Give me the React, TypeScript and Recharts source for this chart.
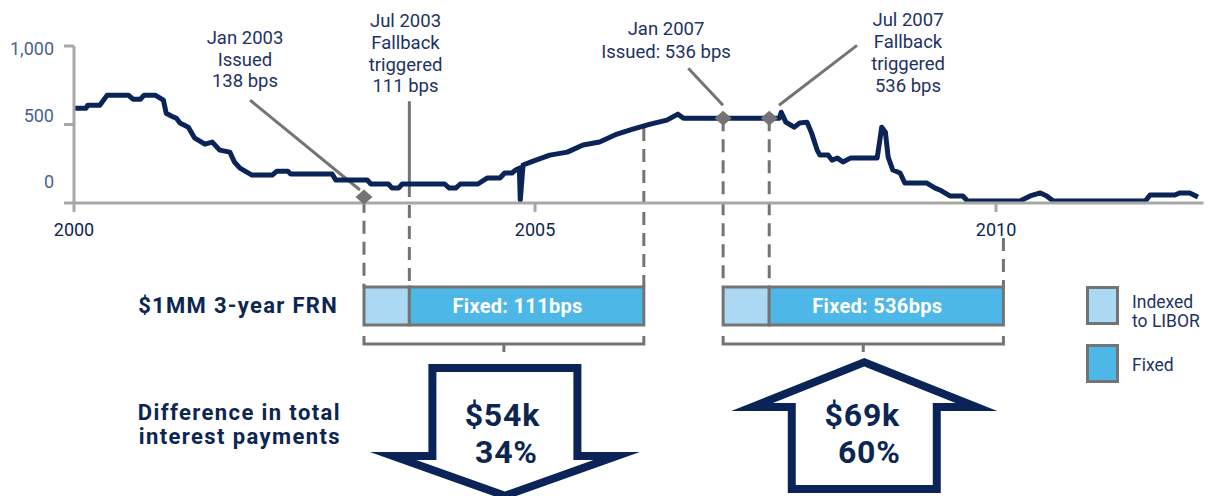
import React from 'react'
import {
  LineChart, Line, XAxis, YAxis, ReferenceLine, ReferenceArea, ReferenceDot,
} from 'recharts'

const W = 1209
const H = 496
const PLOT_TOP = 46
const PLOT_BOTTOM = 203
const PLOT_RIGHT = 1203.5
const PLOT_H = PLOT_BOTTOM - PLOT_TOP
// pixels below the x axis, expressed in bps so the chart's y scale places it
const below = (px: number) => -px * 1000 / PLOT_H

const FONT = 'Roboto, "Open Sans", sans-serif'
const LINE = '#0a2458'
const INK = '#1d3264'
const INK_BOLD = '#0c2652'
const GREY = '#747474'
const AXIS = '#a7a7a7'
const LIGHT = '#abd8f2'
const FIXED = '#4db7e7'

// rate series (bps)
const years = [
  2000.00, 2000.13, 2000.15, 2000.28, 2000.36, 2000.59, 2000.64, 2000.72, 2000.76, 2000.88,
  2000.97, 2001.00, 2001.06, 2001.11, 2001.15, 2001.24, 2001.31, 2001.42, 2001.50, 2001.58,
  2001.69, 2001.74, 2001.80, 2001.93, 2002.15, 2002.20, 2002.32, 2002.35, 2002.80, 2002.84,
  2003.18, 2003.22, 2003.41, 2003.45, 2003.52, 2003.56, 2004.02, 2004.07, 2004.14, 2004.19,
  2004.38, 2004.48, 2004.62, 2004.67, 2004.75, 2004.79, 2004.83, 2004.84, 2004.87, 2004.98,
  2005.16, 2005.35, 2005.52, 2005.70, 2005.89, 2006.06, 2006.25, 2006.43, 2006.55, 2006.61,
  2007.65, 2007.67, 2007.72, 2007.81, 2007.87, 2007.95, 2008.00, 2008.06, 2008.09, 2008.18,
  2008.22, 2008.28, 2008.34, 2008.42, 2008.71, 2008.74, 2008.76, 2008.80, 2008.83, 2008.88,
  2008.96, 2009.01, 2009.25, 2009.34, 2009.39, 2009.50, 2009.64, 2009.69, 2010.26, 2010.37,
  2010.48, 2010.55, 2010.62, 2011.62, 2011.67, 2011.94, 2011.99, 2012.10, 2012.19,
]
const bps = [
  604, 604, 623, 623, 687, 687, 661, 661, 687, 687,
  655, 572, 553, 540, 509, 483, 413, 375, 388, 337,
  324, 261, 222, 178, 178, 203, 203, 184, 184, 146,
  146, 121, 121, 95, 95, 121, 121, 95, 95, 121,
  121, 159, 159, 191, 191, 210, 222, 19, 242, 267,
  305, 324, 369, 388, 439, 470, 502, 528, 566, 540,
  540, 578, 515, 483, 509, 515, 445, 337, 305, 305,
  273, 286, 261, 286, 286, 400, 483, 451, 292, 210,
  191, 127, 127, 95, 83, 45, 45, 13, 13, 45,
  64, 45, 13, 13, 51, 51, 64, 64, 38,
]

const xTicks = [2000, 2005, 2010]
const yTicks = [0, 500, 1000]

// the two 3-year FRNs (dates as placed on the chart)
const frnIssue = [2003.145, 2007.04]
const frnFallback = [2003.637, 2007.54]
const frnMaturity = [2006.18, 2010.08]
const frnFixed = ['Fixed: 111bps', 'Fixed: 536bps']
const diffAmount = ['$54k', '$69k']
const diffPct = ['34%', '60%']
// where each dashed drop line starts (bps): issue, fallback, maturity
const dashStart = [[20, 121, 477], [540, 540, below(35)]]

// diamond markers
const markerYears = [2003.145, 2007.04, 2007.54]
const markerBps = [38, 540, 540]

// callout leader lines [year, bps] -> [year, bps]
const leaders = [
  [[2001.909, 655], [2003.102, 83]],
  [[2003.637, 648], [2003.637, 110]],
  [[2006.662, 858], [2007.039, 623]],
  [[2008.492, 1004], [2007.646, 623]],
]

const yShift: Record<number, number> = { 0: -21, 500: -9, 1000: 3 }
const YTick = ({ x, y, payload }: any) => (
  <text x={x} y={y + (yShift[payload.value] ?? 0)} dy="0.35em" textAnchor="end"
    fill="#4a6291" fontSize={18} fontFamily={FONT}>
    {Number(payload.value).toLocaleString('en-US')}
  </text>
)

const Diamond = ({ cx, cy }: any) => (
  <polygon points={`${cx - 8.5},${cy} ${cx},${cy - 7.5} ${cx + 8.5},${cy} ${cx},${cy + 7.5}`} fill={GREY} />
)

const FixedLabel = ({ viewBox, text }: any) => (
  <text x={viewBox.x + viewBox.width / 2 - 9} y={viewBox.y + viewBox.height / 2} textAnchor="middle"
    dominantBaseline="central" fill="#fff" fontSize={20} fontWeight={700} fontFamily={FONT}
    letterSpacing={0.3}>
    {text}
  </text>
)

// arrow outline: base edge of the shaft, barb line, tip
function arrowPoints(cx: number, base: number, barb: number, tip: number, s: number, hw: number, t: number) {
  const outer = [
    [cx - s, base], [cx + s, base], [cx + s, barb], [cx + hw, barb], [cx, tip], [cx - hw, barb], [cx - s, barb],
  ]
  const dir = Math.sign(tip - base)
  const hh = Math.abs(tip - barb)
  const a = Math.atan(hh / hw)
  const ib = hw * (1 - t / hh) - t / Math.sin(a)
  const inner = [
    [cx - s + t, base + dir * t], [cx + s - t, base + dir * t], [cx + s - t, barb + dir * t],
    [cx + ib, barb + dir * t], [cx, tip - dir * t / Math.cos(a)], [cx - ib, barb + dir * t], [cx - s + t, barb + dir * t],
  ]
  const str = (p: number[][]) => p.map(q => q.join(',')).join(' ')
  return { outer: str(outer), inner: str(inner) }
}

const arrowCfg = [
  { base: 20, barb: 108, tip: 156, hw: 135, t1: 70.6, t2: 108, d1: -1.5, d2: 2.5 },
  { base: 149, barb: 67, tip: 14, hw: 133, t1: 71, t2: 108, d1: -1, d2: 6 },
]

const BracketArrow = (p: any) => {
  const { x, y, width, height, i } = p
  const c = arrowCfg[i]
  const cx = x + width / 2
  const yl = y + height
  const { outer, inner } = arrowPoints(cx + 1, yl + c.base, yl + c.barb, yl + c.tip, 76.5, c.hw, 8)
  return (
    <g>
      <path d={`M${x},${y} L${x},${yl} L${x + width},${yl} L${x + width},${y} M${cx},${yl} L${cx},${yl + 8}`}
        fill="none" stroke={GREY} strokeWidth={3} />
      <polygon points={outer} fill={LINE} />
      <polygon points={inner} fill="#fff" />
      <text x={cx + c.d1} y={yl + c.t1} textAnchor="middle" dominantBaseline="central" letterSpacing={0.8}
        fontFamily={FONT} fontWeight={700} fontSize={32} fill={INK_BOLD}>{diffAmount[i]}</text>
      <text x={cx + c.d2} y={yl + c.t2} textAnchor="middle" dominantBaseline="central" letterSpacing={0.8}
        fontFamily={FONT} fontWeight={700} fontSize={32} fill={INK_BOLD}>{diffPct[i]}</text>
    </g>
  )
}

function Note({ x, y, lines, lh = 21.5, size = 18.5, weight = 400, align = 'center', color = INK, ls = 0 }: any) {
  const pos: React.CSSProperties =
    align === 'center' ? { left: x, transform: 'translateX(-50%)' }
      : align === 'right' ? { right: W - x } : { left: x }
  return (
    <div style={{
      position: 'absolute', top: y - lh / 2, ...pos, textAlign: align, fontFamily: FONT,
      fontSize: size, fontWeight: weight, lineHeight: `${lh}px`, color, whiteSpace: 'nowrap',
      letterSpacing: ls,
    }}>
      {lines.map((l: string) => <div key={l}>{l}</div>)}
    </div>
  )
}

export default function App() {
  const data = years.map((yr, i) => ({ yr, bps: bps[i] }))
  const axisStyle = { stroke: AXIS, strokeWidth: 3 }

  return (
    <div style={{ position: 'absolute', left: 0, top: 0, width: W, height: H, background: '#fff', overflow: 'hidden' }}>
      <LineChart width={W} height={H} data={data}
        margin={{ top: PLOT_TOP, right: W - PLOT_RIGHT, left: 0, bottom: H - PLOT_BOTTOM - 32 }}>
        <XAxis dataKey="yr" type="number" domain={[2000, 2012.25]} ticks={xTicks} allowDataOverflow
          height={32} tickSize={9} tickMargin={11} axisLine={axisStyle} tickLine={axisStyle}
          tick={{ fill: INK_BOLD, fontSize: 18, fontFamily: FONT }} />
        <YAxis type="number" domain={[0, 1000]} ticks={yTicks} allowDataOverflow width={74}
          tickSize={10} tickMargin={10} axisLine={axisStyle} tickLine={axisStyle} tick={<YTick />} />

        {frnIssue.map((_, i) => [frnIssue[i], frnFallback[i], frnMaturity[i]].map((yr, k) => (
          <ReferenceLine key={`d${i}${k}`} ifOverflow="visible" stroke={GREY} strokeWidth={3} strokeDasharray="13 8"
            segment={[{ x: yr, y: dashStart[i][k] }, { x: yr, y: below(84) }]} />
        )))}

        {leaders.map((s, i) => (
          <ReferenceLine key={`l${i}`} ifOverflow="visible" stroke={GREY} strokeWidth={3}
            segment={[{ x: s[0][0], y: s[0][1] }, { x: s[1][0], y: s[1][1] }]} />
        ))}

        {frnIssue.map((_, i) => (
          <ReferenceArea key={`a${i}`} ifOverflow="visible" x1={frnIssue[i]} x2={frnFallback[i]}
            y1={below(122)} y2={below(84)} fill={LIGHT} fillOpacity={1} stroke={GREY} strokeWidth={3} />
        ))}
        {frnIssue.map((_, i) => (
          <ReferenceArea key={`f${i}`} ifOverflow="visible" x1={frnFallback[i]} x2={frnMaturity[i]}
            y1={below(122)} y2={below(84)} fill={FIXED} fillOpacity={1} stroke={GREY} strokeWidth={3}
            label={<FixedLabel text={frnFixed[i]} />} />
        ))}
        {frnIssue.map((_, i) => (
          <ReferenceArea key={`b${i}`} ifOverflow="visible" x1={frnIssue[i]} x2={frnMaturity[i]}
            y1={below(141)} y2={below(133)} shape={(p: any) => <BracketArrow {...p} i={i} />} />
        ))}

        <Line dataKey="bps" type="linear" stroke={LINE} strokeWidth={5} strokeLinejoin="round"
          dot={false} activeDot={false} isAnimationActive={false} />

        {markerYears.map((yr, i) => (
          <ReferenceDot key={`m${i}`} x={yr} y={markerBps[i]} ifOverflow="visible" shape={<Diamond />} />
        ))}
      </LineChart>

      <Note x={245} y={39} lines={['Jan 2003', 'Issued', '138 bps']} />
      <Note x={405.5} y={22} lh={21.7} lines={['Jul 2003', 'Fallback', 'triggered', '111 bps']} />
      <Note x={666} y={29.5} lh={23} lines={['Jan 2007', 'Issued: 536 bps']} />
      <Note x={908} y={20} lh={22} lines={['Jul 2007', 'Fallback', 'triggered', '536 bps']} />

      <Note x={338} y={306} align="right" size={22} weight={700} ls={1.3} color={INK_BOLD} lines={['$1MM 3-year FRN']} />
      <Note x={341} y={413} lh={24} align="right" size={22} weight={700} ls={1.4} color={INK_BOLD}
        lines={['Difference in total', 'interest payments']} />

      <div style={{ position: 'absolute', left: 1086, top: 286, width: 33, height: 39, boxSizing: 'border-box', border: `3px solid ${GREY}`, background: LIGHT }} />
      <div style={{ position: 'absolute', left: 1086, top: 344, width: 33, height: 39, boxSizing: 'border-box', border: `3px solid ${GREY}`, background: FIXED }} />
      <Note x={1132} y={302} lh={19} align="left" size={17.5} lines={['Indexed', 'to LIBOR']} />
      <Note x={1132} y={366} align="left" size={17.5} lines={['Fixed']} />
    </div>
  )
}
